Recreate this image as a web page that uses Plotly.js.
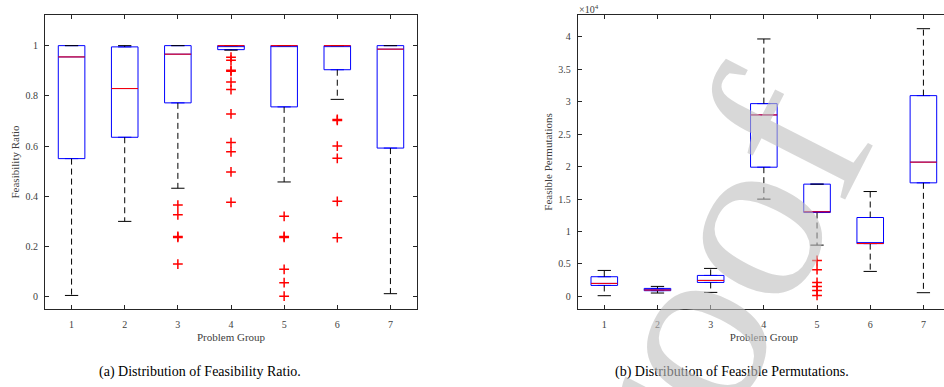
<!DOCTYPE html>
<html><head><meta charset="utf-8">
<script src="https://cdn.plot.ly/plotly-3.0.1.min.js"></script>
<style>html,body{margin:0;padding:0;overflow:hidden;background:#fff}#chart{width:951px;height:387px}</style>
</head><body><div id="chart"></div>
<script>
// ---------- data ----------
const groups = [1, 2, 3, 4, 5, 6, 7];

// (a) Feasibility Ratio
const ratioLowerWhisker = [0.005, 0.300, 0.432, 0.982, 0.457, 0.786, 0.012];
const ratioQ1           = [0.550, 0.635, 0.772, 0.984, 0.756, 0.904, 0.592];
const ratioMedian       = [0.955, 0.829, 0.966, 1.000, 1.000, 1.000, 0.986];
const ratioQ3           = [1.000, 0.995, 1.000, 1.000, 1.000, 1.000, 1.000];
const ratioUpperWhisker = [1.000, 1.000, 1.000, 1.000, 1.000, 1.000, 1.000];
const ratioOutlierGroup = [3, 3, 3, 3, 3,
                           4, 4, 4, 4, 4, 4, 4, 4, 4, 4, 4,
                           5, 5, 5, 5, 5, 5,
                           6, 6, 6, 6, 6, 6];
const ratioOutlierValue = [0.365, 0.326, 0.240, 0.236, 0.130,
                           0.954, 0.942, 0.902, 0.898, 0.855, 0.825, 0.728, 0.614, 0.577, 0.497, 0.376,
                           0.320, 0.240, 0.236, 0.109, 0.056, 0.002,
                           0.706, 0.702, 0.600, 0.551, 0.380, 0.235];
const ratioTickVals = [0, 0.2, 0.4, 0.6, 0.8, 1];

// (b) Feasible Permutations
const permLowerWhisker = [110, 520, 620, 14980, 7900, 3850, 570];
const permQ1           = [1690, 880, 2150, 19900, 12920, 8130, 17490];
const permMedian       = [2000, 980, 2460, 27950, 13030, 8150, 20680];
const permQ3           = [3030, 1230, 3230, 29690, 17290, 12150, 30920];
const permUpperWhisker = [4000, 1540, 4310, 39650, 17290, 16150, 41230];
const permOutlierGroup = [5, 5, 5, 5, 5, 5];
const permOutlierValue = [5540, 4110, 2150, 1540, 920, 150];
const permTickVals = [0, 5000, 10000, 15000, 20000, 25000, 30000, 35000, 40000];
const permTickText = ['0', '0.5', '1', '1.5', '2', '2.5', '3', '3.5', '4'];

// ---------- build ----------
const FONT = 'Liberation Serif';
const BOXW = 0.5, CAPW = 0.25;

function boxplot(xa, ya, lo, q1, med, q3, hi, og, ov) {
  const tr = [];
  tr.push({type: 'box', orientation: 'v', x: groups, q1: q1, median: med, q3: q3,
    lowerfence: q1, upperfence: q3, width: BOXW, boxpoints: false,
    line: {color: '#0000ff', width: 1}, fillcolor: 'rgba(0,0,0,0)',
    xaxis: xa, yaxis: ya, hoverinfo: 'skip', showlegend: false});
  const wx = [], wy = [], cx = [], cy = [], mx = [], my = [];
  groups.forEach((g, i) => {
    wx.push(g, g, null, g, g, null);
    wy.push(q3[i], hi[i], null, q1[i], lo[i], null);
    cx.push(g - CAPW / 2, g + CAPW / 2, null, g - CAPW / 2, g + CAPW / 2, null);
    cy.push(hi[i], hi[i], null, lo[i], lo[i], null);
    mx.push(g - BOXW / 2, g + BOXW / 2, null);
    my.push(med[i], med[i], null);
  });
  tr.push({type: 'scatter', mode: 'lines', x: wx, y: wy, xaxis: xa, yaxis: ya,
    line: {color: '#000', width: 1, dash: '6px,4px'}, hoverinfo: 'skip', showlegend: false});
  tr.push({type: 'scatter', mode: 'lines', x: cx, y: cy, xaxis: xa, yaxis: ya,
    line: {color: '#000', width: 1}, hoverinfo: 'skip', showlegend: false});
  tr.push({type: 'scatter', mode: 'lines', x: mx, y: my, xaxis: xa, yaxis: ya,
    line: {color: '#ff0000', width: 1}, hoverinfo: 'skip', showlegend: false});
  tr.push({type: 'scatter', mode: 'markers', x: og, y: ov, xaxis: xa, yaxis: ya,
    marker: {symbol: 'cross-thin', size: 7, color: '#ff0000', line: {color: '#ff0000', width: 1.5}},
    hoverinfo: 'skip', showlegend: false});
  return tr;
}

const traces = [].concat(
  boxplot('x', 'y', ratioLowerWhisker, ratioQ1, ratioMedian, ratioQ3, ratioUpperWhisker, ratioOutlierGroup, ratioOutlierValue),
  boxplot('x2', 'y2', permLowerWhisker, permQ1, permMedian, permQ3, permUpperWhisker, permOutlierGroup, permOutlierValue)
);

const W = 951, H = 387, ML = 45, MR = 1, MT = 15, MB = 78;
const PW = W - ML - MR, PH = H - MT - MB;
const px = v => (v - ML) / PW;      // pixel x -> paper
const py = v => (H - MB - v) / PH;  // pixel y -> paper

const tickFont = {family: FONT, size: 10, color: '#404040'};
const titleFont = {family: FONT, size: 11, color: '#404040'};
function axis(extra) {
  return Object.assign({showline: true, linecolor: '#262626', linewidth: 1, mirror: 'ticks',
    ticks: 'inside', ticklen: 4, tickcolor: '#262626', tickwidth: 1, tickfont: tickFont,
    showgrid: false, zeroline: false, fixedrange: true}, extra);
}

const layout = {
  width: W, height: H,
  margin: {l: ML, r: MR, t: MT, b: MB, pad: 0},
  paper_bgcolor: '#fff', plot_bgcolor: '#fff',
  showlegend: false,
  font: {family: FONT},
  xaxis: axis({domain: [0, px(417)], range: [0.5, 7.5], tickvals: groups, anchor: 'y',
    ticklabelstandoff: 6, title: {text: 'Problem Group', font: titleFont, standoff: 4}}),
  yaxis: axis({domain: [0, 1], range: [-0.049, 1.122], tickvals: ratioTickVals, anchor: 'x',
    ticklabelstandoff: 4, title: {text: 'Feasibility Ratio', font: titleFont, standoff: 3}}),
  xaxis2: axis({domain: [px(577.7), 1], range: [0.5, 7.5], tickvals: groups, anchor: 'y2',
    ticklabelstandoff: 6, title: {text: 'Problem Group', font: titleFont, standoff: 4}}),
  yaxis2: axis({domain: [0, 1], range: [-1940, 43340], tickvals: permTickVals, ticktext: permTickText,
    anchor: 'x2', ticklabelstandoff: 4, title: {text: 'Feasible Permutations', font: titleFont, standoff: 3}}),
  annotations: [
    {xref: 'paper', yref: 'paper', x: px(200), y: py(372), xanchor: 'center', yanchor: 'middle',
      text: '(a) Distribution of Feasibility Ratio.', showarrow: false, font: {family: FONT, size: 14, color: '#000'}},
    {xref: 'paper', yref: 'paper', x: px(732), y: py(372), xanchor: 'center', yanchor: 'middle',
      text: '(b) Distribution of Feasible Permutations.', showarrow: false, font: {family: FONT, size: 14, color: '#000'}},
    {xref: 'paper', yref: 'paper', x: px(577), y: py(17), xanchor: 'left', yanchor: 'bottom',
      text: '\u00d710<sup>4</sup>', showarrow: false, font: {family: FONT, size: 10, color: '#404040'}},
    {xref: 'paper', yref: 'paper', x: px(683), y: py(335), xanchor: 'center', yanchor: 'middle',
      text: 'proof', showarrow: false, textangle: -63,
      font: {family: FONT, size: 245, color: 'rgba(190,190,190,0.6)'}}
  ]
};

Plotly.newPlot('chart', traces, layout, {staticPlot: true, displayModeBar: false});
</script>
</body></html>
